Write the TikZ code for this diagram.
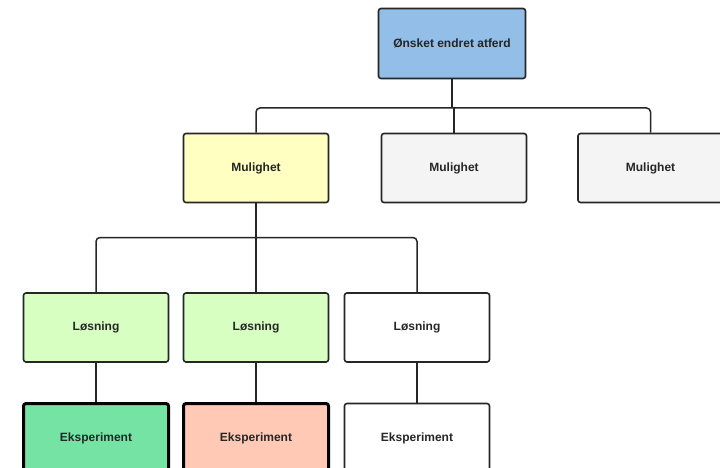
\documentclass[tikz,border=0pt]{standalone}
\usepackage{fontspec}
\setmainfont{Liberation Sans}
\begin{document}
\begin{tikzpicture}[x=1pt,y=-1pt,
  box/.style={draw=black!85, line width=1.6pt, rounded corners=2.5pt,
    minimum width=145pt, minimum height=69pt, inner sep=0pt,
    font=\fontsize{12}{14}\selectfont\bfseries, text=black!85},
  thickbox/.style={box, draw=black, line width=3pt},
  link/.style={draw=black!85, line width=1.5pt}]
\useasboundingbox (0,0) rectangle (720,468);
\clip (0,0) rectangle (720,468);
\definecolor{cblue}{HTML}{92BEE8}
\definecolor{cyellow}{HTML}{FFFFC2}
\definecolor{cgray}{HTML}{F4F4F4}
\definecolor{clgreen}{HTML}{D6FFC1}
\definecolor{cgreen}{HTML}{74E3A4}
\definecolor{csalmon}{HTML}{FFC9B6}

% goal
\node[box, fill=cblue, minimum width=147pt, minimum height=70pt] (goal) at (452,43.5) {Ønsket endret atferd};

% opportunities
\node[box, fill=cyellow] (m1) at (256,168) {Mulighet};
\node[box, fill=cgray] (m2) at (454,168) {Mulighet};
\node[box, fill=cgray] (m3) at (650.5,168) {Mulighet};

% solutions
\node[box, fill=clgreen] (l1) at (96,327.5) {Løsning};
\node[box, fill=clgreen] (l2) at (256,327.5) {Løsning};
\node[box, fill=white] (l3) at (417,327.5) {Løsning};

% experiments
\node[thickbox, fill=cgreen] (e1) at (96,438) {Eksperiment};
\node[thickbox, fill=csalmon] (e2) at (256,438) {Eksperiment};
\node[box, fill=white] (e3) at (417,438) {Eksperiment};

% connectors
\coordinate (bus1) at (452,108);
\coordinate (bus2) at (256,237.5);
\draw[link] (goal.south) -- (bus1);
\draw[link, rounded corners=4pt] (m1.north) |- (bus1) -| (m3.north);
\draw[link] (m2.north) -- (m2.north |- bus1);
\draw[link] (m1.south) -- (bus2);
\draw[link, rounded corners=4pt] (l1.north) |- (bus2) -| (l3.north);
\draw[link] (bus2) -- (l2.north);
\draw[link] (l1.south) -- (e1.north);
\draw[link] (l2.south) -- (e2.north);
\draw[link] (l3.south) -- (e3.north);
\end{tikzpicture}
\end{document}
